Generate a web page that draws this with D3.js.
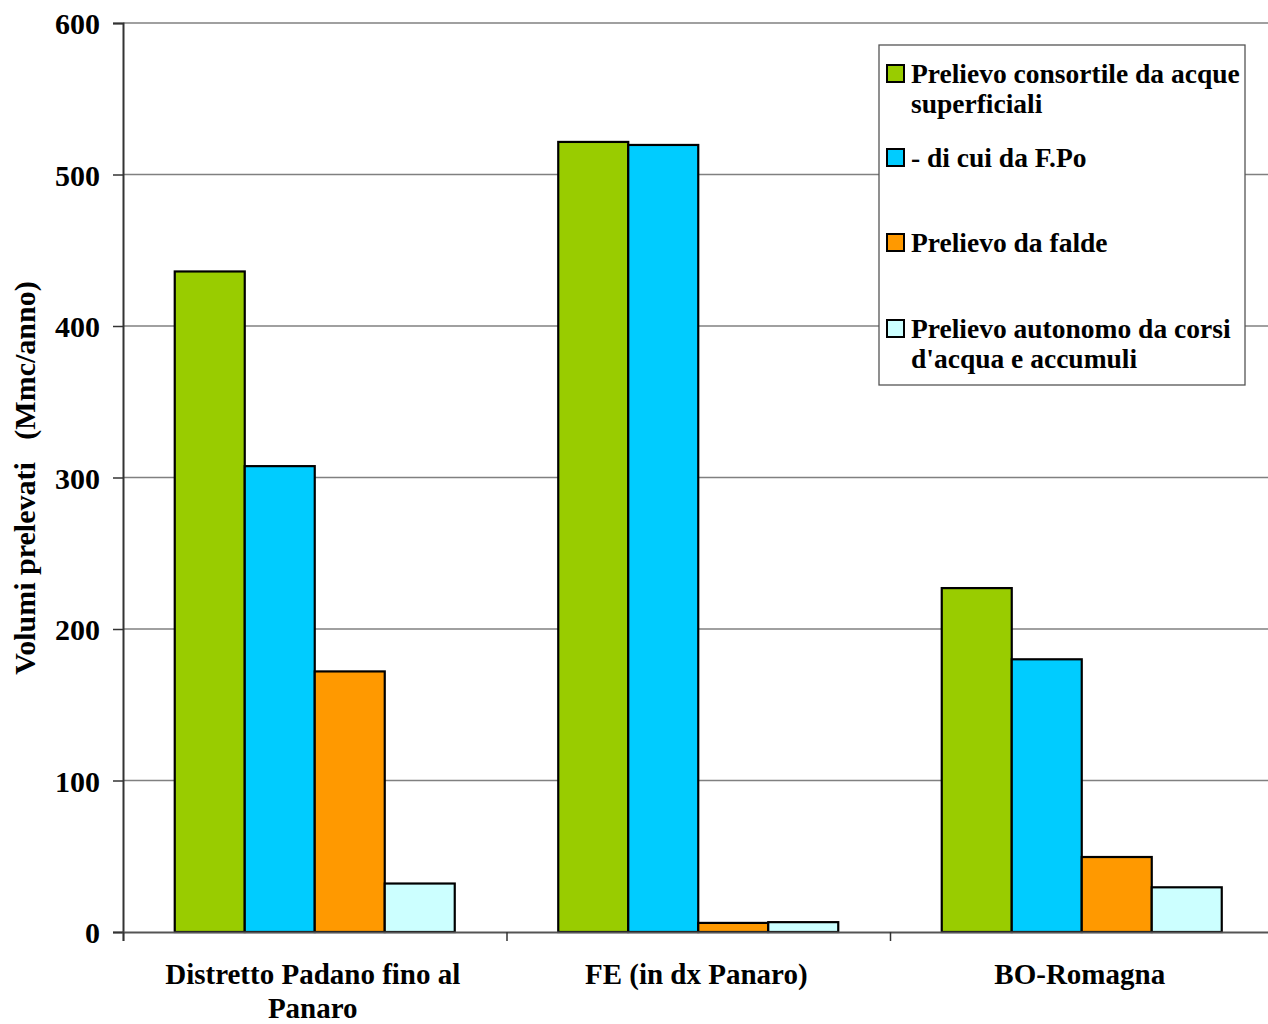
<!DOCTYPE html>
<html><head><meta charset="utf-8">
<script src="https://cdn.jsdelivr.net/npm/d3@7"></script>
<style>body{margin:0;background:#fff}svg{display:block;font-family:"Liberation Serif","Times New Roman",serif;font-weight:bold}</style>
</head><body><svg id="c" width="1268" height="1024"></svg>
<script>
const categories = [["Distretto Padano fino al","Panaro"],["FE (in dx Panaro)"],["BO-Romagna"]];
const seriesNames = [["Prelievo consortile da acque","superficiali"],["- di cui da F.Po"],["Prelievo da falde"],["Prelievo autonomo da corsi","d'acqua e accumuli"]];
const seriesColors = ["#99CC00","#00CCFF","#FF9900","#CCFFFF"];
const consortile = [436, 521.5, 227];
const diCuiPo = [307.5, 519.5, 180];
const falde = [172, 6, 49.5];
const autonomo = [32, 6.5, 29.5];
const yTicks = [0,100,200,300,400,500,600];

const series = [consortile, diCuiPo, falde, autonomo];
const svg = d3.select("#c");
const L=123, T=23, B=932, R=123+3*383.5;
const x = d3.scaleBand().domain(d3.range(3)).range([L,R]);
const pad = (x.bandwidth()-280)/2;
const inner = d3.scaleBand().domain(d3.range(4)).range([pad, pad+280]);
const y = d3.scaleLinear().domain([0,600]).range([B,T]);

// gridlines
svg.append("g").selectAll("line").data(yTicks.slice(1)).join("line")
  .attr("x1",L).attr("x2",R).attr("y1",d=>y(d)).attr("y2",d=>y(d))
  .attr("stroke","#808080").attr("stroke-width",1.3);

// bars
series.forEach((s,si)=>{
  svg.append("g").selectAll("rect").data(s).join("rect")
    .attr("x",(d,i)=>x(i)+inner(si)).attr("width",inner.bandwidth())
    .attr("y",d=>y(d)).attr("height",d=>B-y(d))
    .attr("fill",seriesColors[si]).attr("stroke","#000").attr("stroke-width",2.2);
});

// y axis
const ya = svg.append("g").attr("transform",`translate(${L},0)`)
  .call(d3.axisLeft(y).tickValues(yTicks).tickSize(10).tickPadding(13));
ya.select(".domain").attr("stroke","#333").attr("stroke-width",2);
ya.selectAll(".tick line").attr("stroke","#333").attr("stroke-width",1.5);
ya.selectAll(".tick text").attr("font-size",30).attr("font-family","Liberation Serif").attr("font-weight","bold").attr("fill","#000").attr("dy","0.35em");

// x axis
const xa = svg.append("g").attr("transform",`translate(0,${B})`)
  .call(d3.axisBottom(d3.scaleLinear().domain([0,3]).range([L,R])).tickValues([0,1,2,3]).tickSize(9).tickFormat(""));
xa.select(".domain").attr("stroke","#555").attr("stroke-width",2);
xa.selectAll(".tick line").attr("stroke","#333").attr("stroke-width",1.5);

// x labels
categories.forEach((lines,i)=>{
  const cx = x(i)+x.bandwidth()/2 - 2;
  const t = svg.append("text").attr("text-anchor","middle").attr("font-size",29)
    .attr("x",cx).attr("y",984);
  lines.forEach((ln,j)=>t.append("tspan").attr("x",cx).attr("dy",j?34:0).text(ln));
});

// y title
svg.append("text").attr("transform","translate(35,478) rotate(-90)").attr("text-anchor","middle")
  .attr("font-size",30).style("white-space","pre").text("Volumi prelevati   (Mmc/anno)");

// legend
const lg = svg.append("g");
lg.append("rect").attr("x",879).attr("y",45).attr("width",366).attr("height",340)
  .attr("fill","#fff").attr("stroke","#555").attr("stroke-width",1.3);
const itemY = [83,167,252,338];
seriesNames.forEach((lines,i)=>{
  lg.append("rect").attr("x",887).attr("y",itemY[i]-18).attr("width",17).attr("height",17)
    .attr("fill",seriesColors[i]).attr("stroke","#000").attr("stroke-width",2);
  const t = lg.append("text").attr("font-size",27.5).attr("x",911).attr("y",itemY[i]);
  lines.forEach((ln,j)=>t.append("tspan").attr("x",911).attr("dy",j?30:0).text(ln));
});
</script></body></html>
